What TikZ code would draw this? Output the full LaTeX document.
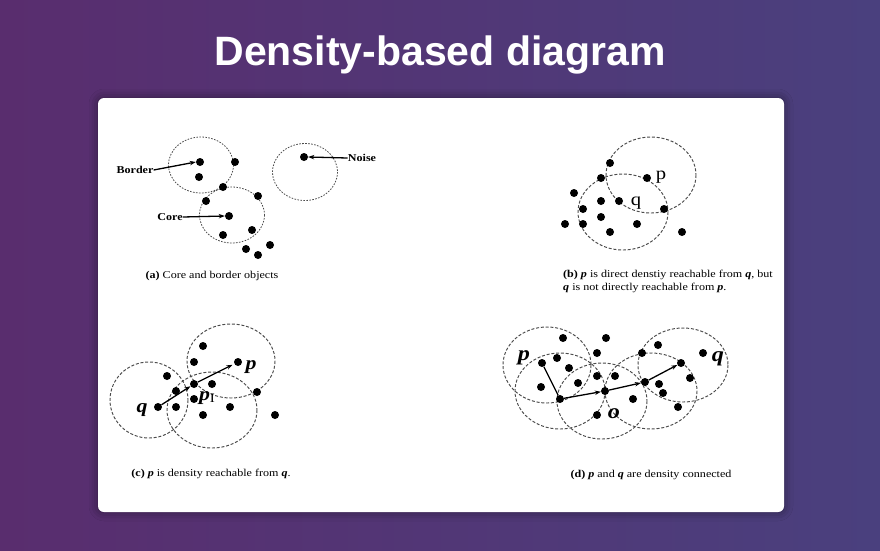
\documentclass[tikz,border=0pt]{standalone}
\usepackage{fontspec}
\usepackage{graphicx}
\setmainfont{Liberation Serif}
\newfontfamily\titlefont{Liberation Sans}
\usetikzlibrary{arrows.meta,shadows.blur}
\definecolor{bgL}{RGB}{89,45,110}
\definecolor{bgR}{RGB}{74,64,126}
\definecolor{ringc}{RGB}{75,75,75}
\newcommand\wx[1]{\scalebox{1.15}[1]{#1}}
\newcommand\bi[1]{\textbf{\textit{#1}}}
\tikzset{
 dot/.style={circle,fill=black,inner sep=0pt,minimum size=8pt},
 ring/.style={draw=ringc,line width=0.95pt,dash pattern=on 3pt off 1.8pt},
 ringa/.style={draw=ringc,line width=0.8pt,dash pattern=on 1.6pt off 1.4pt},
 lbl/.style={inner sep=0pt,font=\fontsize{10.5}{12}\selectfont\bfseries},
 captxt/.style={inner sep=0pt,font=\fontsize{10.5}{13}\selectfont},
 ptr/.style={-{Stealth[length=6pt,width=4.4pt]},line width=1.3pt},
 plain/.style={line width=1.3pt},
 lettc/.style={inner sep=0pt,font=\fontsize{19}{19}\selectfont\bfseries\itshape},
 lettd/.style={inner sep=0pt,font=\fontsize{21}{21}\selectfont\bfseries\itshape},
 lettb/.style={inner sep=0pt,font=\fontsize{18}{18}\selectfont},
}
\begin{document}
\begin{tikzpicture}[x=1pt,y=-1pt]
\shade[left color=bgL,right color=bgR] (0,0) rectangle (880,550);
\useasboundingbox (0,0) rectangle (880,550);
\node[text=white,font=\titlefont\fontsize{41}{41}\selectfont\bfseries,anchor=base] (title) at (440,65) {Density-based diagram};
\node[fill=white,rounded corners=6pt,minimum width=686pt,minimum height=414pt,inner sep=0pt,
  blur shadow={shadow xshift=0pt,shadow yshift=0pt,shadow blur radius=9pt,shadow opacity=45}] (card) at (441,305) {};

% ---------- panel (a)
\draw[ringa] (201,165) ellipse [x radius=32.5,y radius=28];
\draw[ringa] (232,215) ellipse [x radius=32.5,y radius=28];
\draw[ringa] (305,172) ellipse [x radius=32.5,y radius=28.5];
\node[dot] (a1) at (200,162) {};
\node[dot] (a2) at (235,162) {};
\node[dot] (a3) at (199,177) {};
\node[dot] (a4) at (223,187) {};
\node[dot] (a5) at (206,201) {};
\node[dot] (a6) at (258,196) {};
\node[dot] (a7) at (229,216) {};
\node[dot] (a8) at (223,235) {};
\node[dot] (a9) at (252,230) {};
\node[dot] (a10) at (270,245) {};
\node[dot] (a11) at (246,249) {};
\node[dot] (a12) at (258,255) {};
\node[dot] (a13) at (304,157) {};
\node[lbl] (border) at (135,170) {\wx{Border}};
\node[lbl] (core) at (170,217) {\wx{Core}};
\node[lbl] (noise) at (362,158) {\wx{Noise}};
\draw[ptr] (border.east) -- (a1.west);
\draw[ptr] (core.east) -- (a7.west);
\draw[ptr] (noise.west) -- (a13.east);
\node[captxt] (capa) at (212,276) {\wx{\textbf{(a)} Core and border objects}};

% ---------- panel (b)
\draw[ring] (651,175) ellipse [x radius=45,y radius=38];
\draw[ring] (623,212) ellipse [x radius=45,y radius=38];
\node[dot] (b1) at (610,163) {};
\node[dot] (b2) at (601,178) {};
\node[dot] (bp) at (647,178) {};
\node[dot] (b4) at (574,193) {};
\node[dot] (b5) at (601,201) {};
\node[dot] (bq) at (619,201) {};
\node[dot] (b7) at (583,209) {};
\node[dot] (b8) at (664,209) {};
\node[dot] (b9) at (601,217) {};
\node[dot] (b10) at (565,224) {};
\node[dot] (b11) at (583,224) {};
\node[dot] (b12) at (637,224) {};
\node[dot] (b13) at (610,232) {};
\node[dot] (b14) at (682,232) {};
\node[lettb] (lbp) at (661,177) {\wx{p}};
\node[lettb] (lbq) at (636,203) {\wx{q}};
\node[captxt,anchor=west] (capb1) at (563,275) {\wx{\textbf{(b)} \bi{p} is direct denstiy reachable from \bi{q}, but}};
\node[captxt,anchor=west] (capb2) at (563,288) {\wx{\bi{q} is not directly reachable from \bi{p}.}};

% ---------- panel (c)
\draw[ring] (149,400) ellipse [x radius=39,y radius=38];
\draw[ring] (231,361) ellipse [x radius=44,y radius=37];
\draw[ring] (212,410) ellipse [x radius=45,y radius=38];
\node[dot] (c1) at (203,346) {};
\node[dot] (c2) at (194,362) {};
\node[dot] (cp) at (238,362) {};
\node[dot] (c4) at (167,376) {};
\node[dot] (cp1) at (194,384) {};
\node[dot] (c6) at (212,384) {};
\node[dot] (c7) at (176,391) {};
\node[dot] (c8) at (257,392) {};
\node[dot] (c9) at (194,399) {};
\node[dot] (cq) at (158,407) {};
\node[dot] (c11) at (176,407) {};
\node[dot] (c12) at (230,407) {};
\node[dot] (c13) at (203,415) {};
\node[dot] (c14) at (275,415) {};
\draw[ptr] (cq) -- (cp1);
\draw[ptr,shorten >=2pt] (cp1) -- (cp);
\node[lettc] (lcq) at (142,410) {\wx{q}};
\node[lettc] (lcp) at (251,367) {\wx{p}};
\node[lettc] (lcp1) at (207,398) {\wx{p\raisebox{-2pt}{\fontsize{13}{13}\selectfont\upshape\mdseries I}}};
\node[captxt] (capc) at (211,474) {\wx{\textbf{(c)} \bi{p} is density reachable from \bi{q}.}};

% ---------- panel (d)
\draw[ring] (547,365) ellipse [x radius=44,y radius=38];
\draw[ring] (560,391) ellipse [x radius=45,y radius=38];
\draw[ring] (602,401) ellipse [x radius=45,y radius=38];
\draw[ring] (651,391) ellipse [x radius=46,y radius=38];
\draw[ring] (683,365) ellipse [x radius=45,y radius=37];
\node[dot] (d1) at (563,338) {};
\node[dot] (d2) at (606,338) {};
\node[dot] (d3) at (597,353) {};
\node[dot] (d4) at (642,353) {};
\node[dot] (d5) at (658,345) {};
\node[dot] (d6) at (703,353) {};
\node[dot] (dp) at (542,363) {};
\node[dot] (d8) at (557,358) {};
\node[dot] (d9) at (569,368) {};
\node[dot] (dq) at (681,363) {};
\node[dot] (d11) at (597,376) {};
\node[dot] (d12) at (615,376) {};
\node[dot] (d13) at (690,378) {};
\node[dot] (d14) at (541,387) {};
\node[dot] (d15) at (578,383) {};
\node[dot] (dr) at (645,382) {};
\node[dot] (d17) at (659,384) {};
\node[dot] (d18) at (663,393) {};
\node[dot] (do) at (605,391) {};
\node[dot] (db) at (560,399) {};
\node[dot] (d21) at (633,399) {};
\node[dot] (d22) at (678,407) {};
\node[dot] (d23) at (597,415) {};
\draw[plain] (dp) -- (db);
\draw[ptr] (db) -- (do);
\draw[ptr] (do) -- (dr);
\draw[ptr] (dr) -- (dq);
\node[lettd] (ldp) at (524,358) {\wx{p}};
\node[lettd] (ldq) at (718,359) {\wx{q}};
\node[lettd] (ldo) at (614,414) {\wx{o}};
\node[captxt] (capd) at (651,475) {\wx{\textbf{(d)} \bi{p} and \bi{q} are density connected}};
\end{tikzpicture}
\end{document}
